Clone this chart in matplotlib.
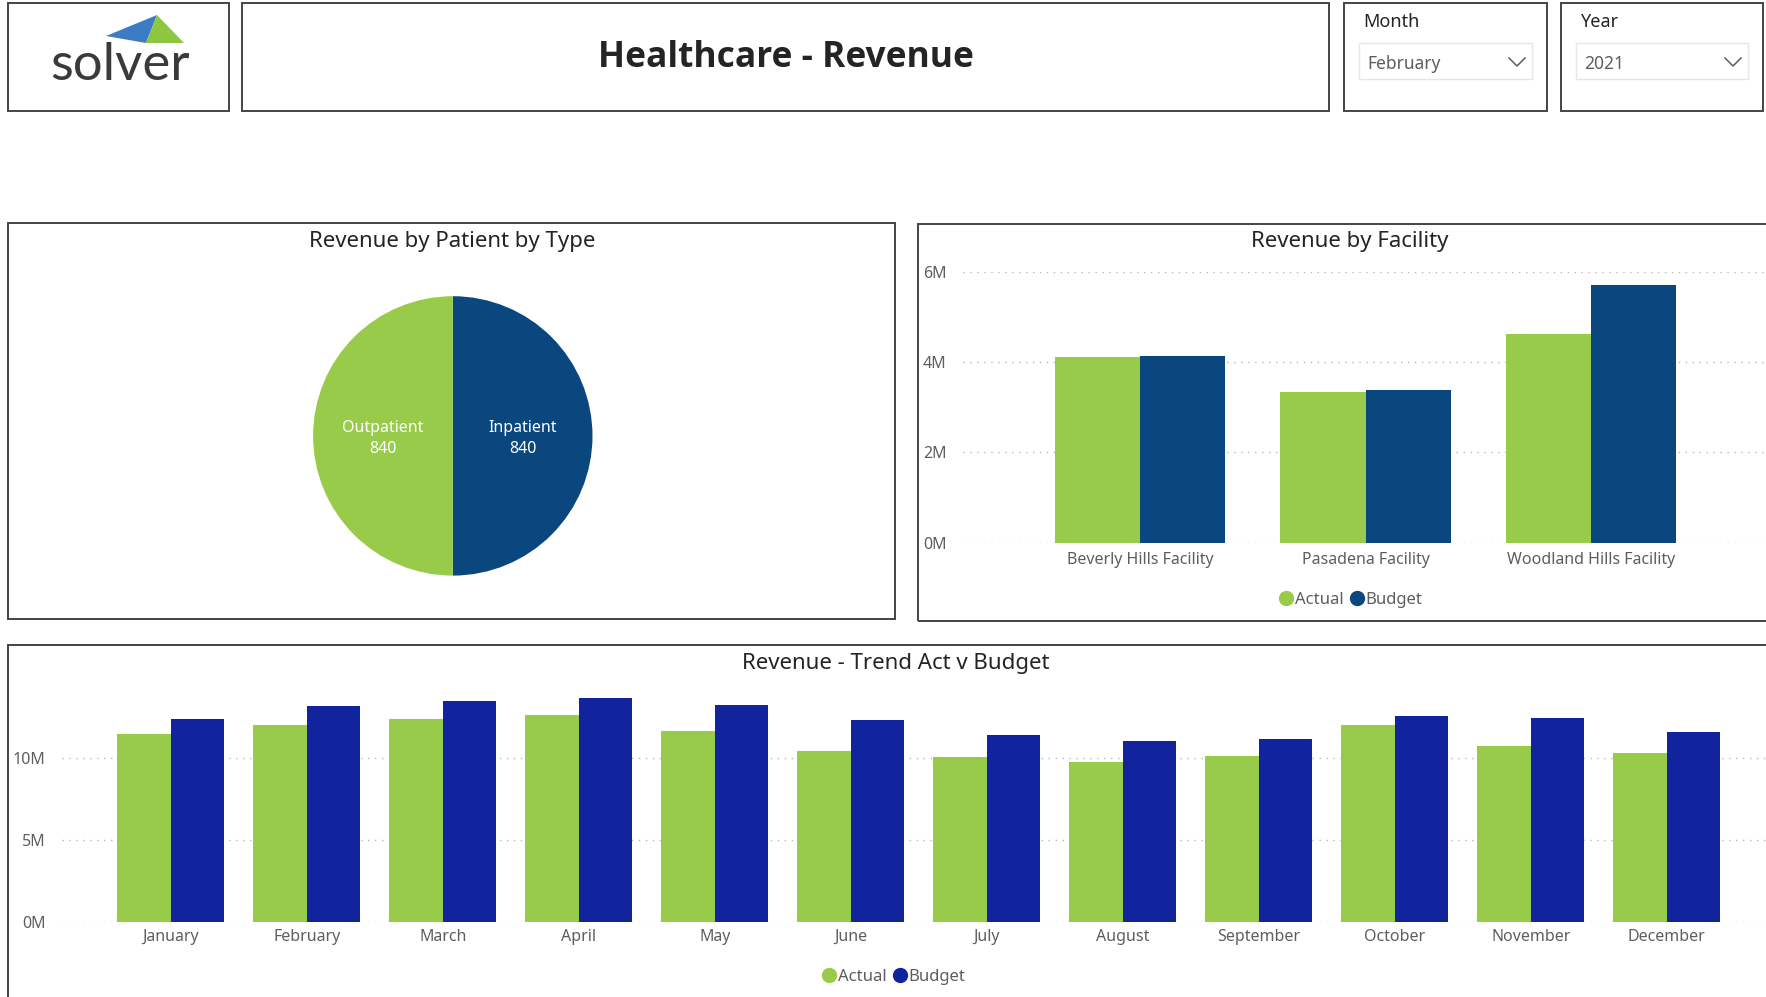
import matplotlib.pyplot as plt
from matplotlib.patches import Rectangle, Polygon
from matplotlib.lines import Line2D
import numpy as np

# data
patient_types = ['Inpatient', 'Outpatient']
patient_counts = [840, 840]

facilities = ['Beverly Hills Facility', 'Pasadena Facility', 'Woodland Hills Facility']
facility_actual = [4.11, 3.34, 4.61]
facility_budget = [4.13, 3.38, 5.71]

months = ['January', 'February', 'March', 'April', 'May', 'June', 'July',
          'August', 'September', 'October', 'November', 'December']
month_actual = [11.51, 12.06, 12.41, 12.68, 11.68, 10.45, 10.07, 9.76, 10.15, 12.06, 10.74, 10.31]
month_budget = [12.39, 13.23, 13.53, 13.72, 13.25, 12.35, 11.43, 11.05, 11.21, 12.61, 12.47, 11.63]

slicer_month = 'February'
slicer_year = '2021'

W, H = 1766, 997
GREEN = '#98CB4A'
NAVY = '#0B477F'
ROYAL = '#12239E'
DARK = '#252423'
GREY = '#605E5C'
FONT = 'Noto Sans'

plt.rcParams['font.family'] = [FONT, 'DejaVu Sans']

fig = plt.figure(figsize=(W / 100, H / 100), dpi=100)
fig.patch.set_facecolor('white')


def fx(x):
    return x / W


def fy(y):
    return 1 - y / H


def rect(ax_left, top, right, bottom):
    return [fx(ax_left), fy(bottom), (right - ax_left) / W, (bottom - top) / H]


def box(x0, y0, x1, y1, color='#444444', lw=1.4):
    fig.add_artist(Rectangle((fx(x0), fy(y1)), (x1 - x0) / W, (y1 - y0) / H,
                             transform=fig.transFigure, fill=False,
                             edgecolor=color, linewidth=lw))


def chevron(cx, cy):
    xs = [cx - 8, cx, cx + 8]
    ys = [cy - 4, cy + 4, cy - 4]
    fig.add_artist(Line2D([fx(v) for v in xs], [fy(v) for v in ys],
                          transform=fig.transFigure, color=GREY, lw=1.1))


# header boxes
box(8, 3, 229, 111)
box(242, 3, 1329, 111)
box(1344, 3, 1547, 111)
box(1561, 3, 1763, 111)

# logo
fig.add_artist(Polygon([(fx(106), fy(36)), (fx(157), fy(15)), (fx(146), fy(43))],
                       closed=True, transform=fig.transFigure,
                       facecolor='#3B7CC4', edgecolor='none'))
fig.add_artist(Polygon([(fx(157), fy(15)), (fx(146), fy(43)), (fx(184), fy(43))],
                       closed=True, transform=fig.transFigure,
                       facecolor='#8DC63F', edgecolor='none'))
fig.text(fx(120), fy(65), 'solver', ha='center', va='center', fontsize=38,
         color='#3A3A3A', family='Lato')

fig.text(fx(786), fy(58), 'Healthcare - Revenue', ha='center', va='center',
         fontsize=25.5, fontweight='bold', color=DARK, family=['Open Sans', 'DejaVu Sans'])

# slicers
for x0, x1, label, value in [(1344, 1547, 'Month', slicer_month),
                             (1561, 1763, 'Year', slicer_year)]:
    fig.text(fx(x0 + 19), fy(22), label, ha='left', va='center', fontsize=13, color=DARK)
    box(x0 + 15, 43, x1 - 15, 79, color='#E6E6E6', lw=1)
    fig.text(fx(x0 + 23), fy(64), value, ha='left', va='center', fontsize=12.5, color=GREY)
    chevron(x1 - 30, 62)

# panel frames
box(8, 223, 895, 619)
box(918, 224, 1770, 621)
box(8, 645, 1770, 1000)

fig.text(fx(452), fy(241), 'Revenue by Patient by Type', ha='center', va='center',
         fontsize=16, color=DARK)
fig.text(fx(1350), fy(242), 'Revenue by Facility', ha='center', va='center',
         fontsize=16, color=DARK)
fig.text(fx(896), fy(663), 'Revenue - Trend Act v Budget', ha='center', va='center',
         fontsize=16, color=DARK)

# pie
r = 139.7
cx, cy = 452.8, 435.9
ax_pie = fig.add_axes(rect(cx - r, cy - r, cx + r, cy + r))
labels = [f'{t}\n{c}' for t, c in zip(patient_types, patient_counts)]
wedges, texts = ax_pie.pie(patient_counts, labels=labels, colors=[NAVY, GREEN], startangle=90,
                           counterclock=False, labeldistance=0.5, radius=1,
                           textprops={'color': 'white', 'fontsize': 11.5, 'ha': 'center',
                                      'va': 'center', 'linespacing': 1.45},
                           wedgeprops={'linewidth': 0})
for t in texts:
    t.set_y(t.get_position()[1] - 0.02)
ax_pie.set_xlim(-1, 1)
ax_pie.set_ylim(-1, 1)
ax_pie.set_aspect('equal')


def style_bar_axes(ax, ticks):
    for s in ax.spines.values():
        s.set_visible(False)
    ax.set_yticks(ticks)
    ax.yaxis.set_major_formatter(plt.FuncFormatter(lambda v, p: f'{v:.0f}M'))
    ax.grid(axis='y', linestyle=(0, (1, 4)), color='#B8B8B8', linewidth=1)
    ax.set_axisbelow(True)
    ax.tick_params(axis='both', length=0, labelsize=11.5, labelcolor=GREY)
    ax.tick_params(axis='y', pad=12)
    ax.tick_params(axis='x', pad=7)
    ax.set_facecolor('none')


def legend(ax, x, y, budget_color):
    handles = [Line2D([], [], marker='o', linestyle='none', color=GREEN, markersize=10),
               Line2D([], [], marker='o', linestyle='none', color=budget_color, markersize=10)]
    fig.legend(handles, ['Actual', 'Budget'], loc='center', bbox_to_anchor=(fx(x), fy(y)),
               ncol=2, frameon=False, handletextpad=0.0, columnspacing=0.3,
               handlelength=1.0, fontsize=12, labelcolor=GREY)


# facility bars
ax_f = fig.add_axes(rect(963, 271.7, 1766, 542.7))
xf = np.arange(len(facilities))
bw = 0.378
ax_f.bar(xf - bw / 2, facility_actual, bw, color=GREEN)
ax_f.bar(xf + bw / 2, facility_budget, bw, color=NAVY)
ax_f.set_xticks(xf)
ax_f.set_xticklabels(facilities)
ax_f.set_xlim(-0.785, 2.776)
ax_f.set_ylim(0, 6)
style_bar_axes(ax_f, [0, 2, 4, 6])
legend(ax_f, 1350, 600, NAVY)

# monthly trend bars
ax_t = fig.add_axes(rect(62, 921.7 - 14.5 * 16.34, 1766, 921.7))
xm = np.arange(len(months))
bw = 0.393
ax_t.bar(xm - bw / 2, month_actual, bw, color=GREEN)
ax_t.bar(xm + bw / 2, month_budget, bw, color=ROYAL)
ax_t.set_xticks(xm)
ax_t.set_xticklabels(months)
ax_t.set_xlim(-0.8, 11.73)
ax_t.set_ylim(0, 14.5)
style_bar_axes(ax_t, [0, 5, 10])
ax_t.tick_params(axis='x', pad=5)
legend(ax_t, 893, 977, ROYAL)

fig.savefig('out.png', dpi=100, facecolor='white')
